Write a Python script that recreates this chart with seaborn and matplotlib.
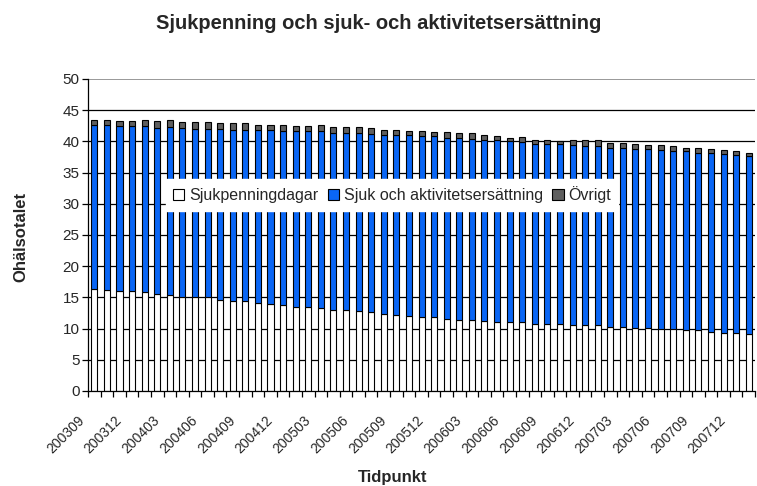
import seaborn as sns
import matplotlib.pyplot as plt
import matplotlib.transforms as mtransforms
from matplotlib.patches import Patch

# Monthly periods 200309 .. 200801
months = []
for yr in range(2003, 2009):
    for m in range(1, 13):
        p = f"{yr}{m:02d}"
        if "200309" <= p <= "200801":
            months.append(p)

sjukpenning = [16.4, 16.2, 16.0, 16.0, 15.8, 15.5, 15.4, 15.1, 15.0, 15.0,
               14.6, 14.4, 14.4, 14.1, 13.9, 13.7, 13.5, 13.5, 13.3, 13.0,
               13.0, 12.8, 12.6, 12.4, 12.2, 12.0, 11.8, 11.8, 11.6, 11.4,
               11.4, 11.2, 11.0, 11.0, 11.0, 10.7, 10.7, 10.7, 10.5, 10.5,
               10.5, 10.3, 10.3, 10.1, 10.1, 9.9, 9.9, 9.7, 9.7, 9.5,
               9.3, 9.3, 9.1]
sjuk_aktivitet = [26.2, 26.4, 26.4, 26.4, 26.7, 26.7, 26.9, 27.1, 27.0, 27.0,
                  27.4, 27.5, 27.5, 27.7, 27.9, 27.9, 28.1, 28.1, 28.4, 28.4,
                  28.4, 28.6, 28.6, 28.7, 28.8, 29.0, 29.0, 29.0, 29.0, 29.2,
                  29.0, 29.0, 29.2, 29.0, 28.9, 28.9, 28.9, 28.9, 28.9, 28.7,
                  28.7, 28.7, 28.7, 28.7, 28.7, 28.7, 28.5, 28.7, 28.5, 28.7,
                  28.7, 28.5, 28.5]
ovrigt = [0.9, 0.9, 0.9, 0.9, 0.9, 1.1, 1.1, 0.9, 1.1, 1.1,
          0.9, 1.1, 1.1, 0.9, 0.9, 1.1, 0.9, 0.9, 0.9, 0.9,
          0.9, 0.9, 0.9, 0.8, 0.9, 0.6, 0.9, 0.7, 0.9, 0.7,
          0.9, 0.9, 0.6, 0.6, 0.8, 0.7, 0.7, 0.5, 0.8, 1.0,
          1.0, 0.8, 0.8, 0.8, 0.6, 0.8, 0.8, 0.6, 0.8, 0.6,
          0.6, 0.6, 0.6]

series_names = ["Sjukpenningdagar", "Sjuk och aktivitetsersättning", "Övrigt"]
colors = ["#FFFFFF", "#0A66F5", "#5F5F5F"]

sns.set_style("white")
plt.rcParams["font.family"] = ["Liberation Sans", "DejaVu Sans"]

fig = plt.figure(figsize=(7.57, 4.86), dpi=100)
ax = fig.add_axes([0.1163, 0.1955, 0.8811, 0.642])

bottom2 = [a + b for a, b in zip(sjukpenning, sjuk_aktivitet)]
kw = dict(edgecolor="black", linewidth=0.8, width=0.48, ax=ax)
sns.barplot(x=months, y=sjukpenning, color=colors[0], saturation=1, **kw)
sns.barplot(x=months, y=sjuk_aktivitet, bottom=sjukpenning, color=colors[1],
            saturation=1, **kw)
sns.barplot(x=months, y=ovrigt, bottom=bottom2, color=colors[2],
            saturation=1, **kw)

ax.set_axisbelow(True)
for v in range(5, 50, 5):
    ax.axhline(v, color="black", linewidth=0.9, zorder=0)
ax.axhline(50, color="#999999", linewidth=1.4, zorder=0)

ax.set_ylim(0, 50)
ax.set_xlim(-0.5, len(months) - 0.5)
ax.set_yticks(range(0, 51, 5))
ax.tick_params(axis="y", direction="out", length=4, width=0.9, color="black",
               labelsize=11, pad=2, left=True)

# labels every third month, tick marks at category boundaries
ax.set_xticks(range(0, len(months), 3))
ax.set_xticklabels(months[::3], rotation=45, ha="right", va="top",
                   rotation_mode="anchor", fontsize=10)
ax.set_xticks([i - 0.5 for i in range(len(months) + 1)], minor=True)
ax.tick_params(axis="x", which="major", length=0, pad=16)
ax.tick_params(axis="x", which="minor", direction="out", length=4, width=0.9,
               color="black", bottom=True)
offset = mtransforms.ScaledTranslation(-12.5 / 72, 0, fig.dpi_scale_trans)
for lab in ax.get_xticklabels():
    lab.set_transform(lab.get_transform() + offset)

for s in ["top", "right"]:
    ax.spines[s].set_visible(False)
for s in ["left", "bottom"]:
    ax.spines[s].set_color("black")
    ax.spines[s].set_linewidth(0.9)

ax.set_xlabel("")
ax.set_ylabel("")
fig.text(0.518, 0.017, "Tidpunkt", ha="center", va="center",
         fontsize=12, fontweight="bold")
fig.text(0.028, 0.512, "Ohälsotalet", ha="center", va="center",
         rotation=90, fontsize=12, fontweight="bold")
fig.suptitle("Sjukpenning och sjuk- och aktivitetsersättning", x=0.5, y=0.952,
             fontsize=14.5, fontweight="bold", va="center")

handles = [Patch(facecolor=c, edgecolor="black", linewidth=0.8) for c in colors]
leg = fig.legend(handles, series_names, loc="center",
                 bbox_to_anchor=(0.518, 0.599), ncol=3, fontsize=11.5,
                 frameon=True, fancybox=False, framealpha=1,
                 handlelength=0.7, handleheight=0.7, handletextpad=0.3,
                 columnspacing=0.6, borderpad=0.45)
leg.get_frame().set_edgecolor("white")
leg.get_frame().set_facecolor("white")

fig.savefig("out.png", dpi=100)
